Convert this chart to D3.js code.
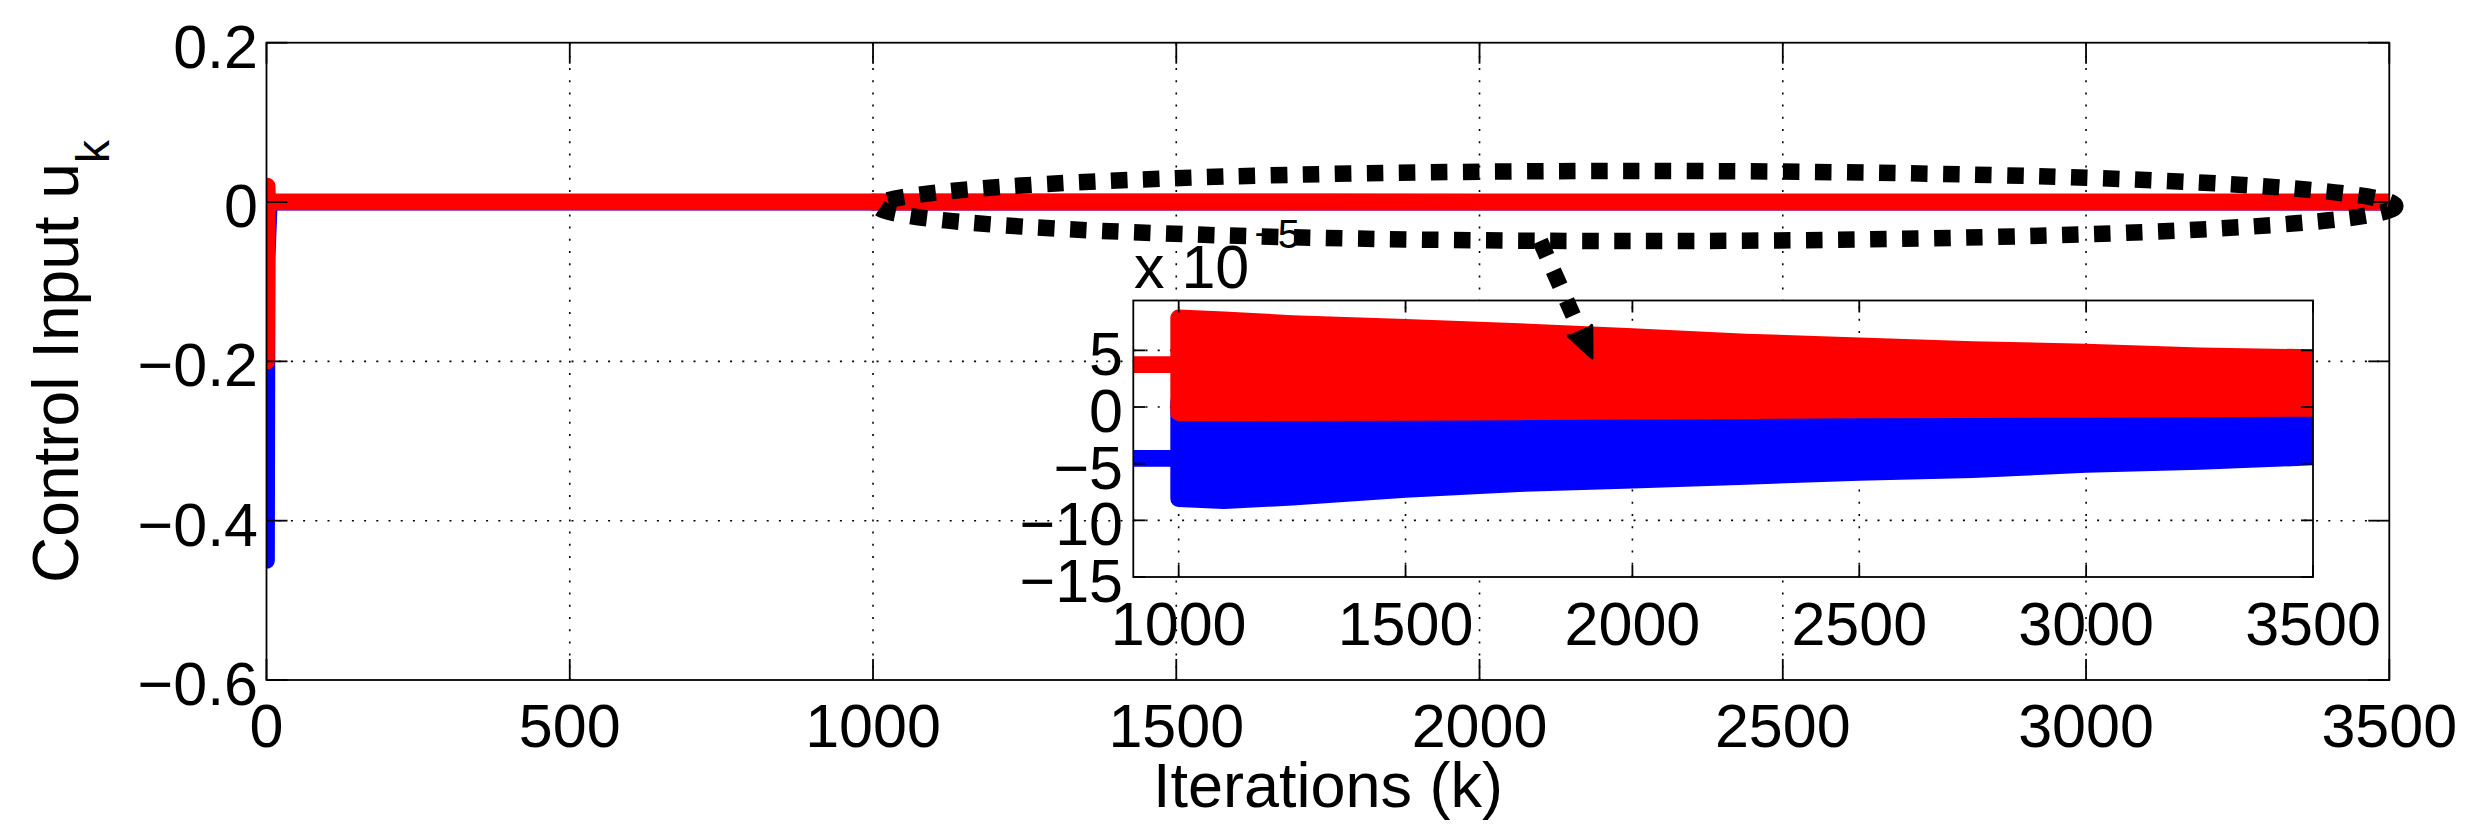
<!DOCTYPE html>
<html><head><meta charset="utf-8">
<script src="https://cdn.jsdelivr.net/npm/d3@7"></script>
<style>
body{margin:0;background:#fff}
svg{display:block}
text{font-family:"Liberation Sans",Arial,Helvetica,sans-serif;fill:#000}
</style>
</head><body>
<svg id="c" width="2470" height="834"></svg>
<script>
// ---------------- data ----------------
const mainXTicks = [0, 500, 1000, 1500, 2000, 2500, 3000, 3500];
const mainYTicks = [-0.6, -0.4, -0.2, 0, 0.2];
const insetXTicks = [1000, 1500, 2000, 2500, 3000, 3500];
const insetYTicks = [-15, -10, -5, 0, 5];           // in units of 1e-5

// transient + flat part of each control input
const redK  = [0, 1, 2, 1000];
const redU  = [-0.2, 0.02, 3.74e-5, 3.74e-5];
const blueK = [0, 1, 4, 5, 1000];
const blueU = [-0.45, -0.07, -0.013, -4.53e-5, -4.53e-5];

// oscillation envelope after k = 1000 (units of 1e-5)
const envK      = [1000, 1100, 1250, 1500, 1750, 2000, 2250, 2500, 2750, 3000, 3250, 3500];
const redUpper  = [7.86, 7.70, 7.37, 7.04, 6.65, 6.22, 5.73, 5.40, 5.07, 4.84, 4.51, 4.36];
const redLower  = [-0.50, -0.52, -0.50, -0.48, -0.42, -0.36, -0.31, -0.26, -0.23, -0.20, -0.16, -0.12];
const blueUpper = [0.45, 0.42, 0.40, 0.36, 0.32, 0.28, 0.25, 0.22, 0.20, 0.18, 0.15, 0.12];
const blueLower = [-8.09, -8.26, -7.96, -7.26, -6.76, -6.46, -6.12, -5.76, -5.53, -5.06, -4.80, -4.41];

const RED = "#ff0000", BLUE = "#0000ff";
const LW = 16.7;

// ---------------- setup ----------------
const svg = d3.select("#c");
const fmtMain = v => (v < 0 ? "\u2212" : "") + Math.abs(v).toString();
const defs = svg.append("defs");

const mx = d3.scaleLinear().domain([0, 3500]).range([266.5, 2389.3]);
const my = d3.scaleLinear().domain([-0.6, 0.2]).range([680, 42.7]);
const ix = d3.scaleLinear().domain([900, 3500]).range([1133.3, 2313]);
const iy = d3.scaleLinear().domain([-15e-5, 9.4e-5]).range([577, 300.5]);
const iys = d3.scaleLinear().domain([-15, 9.4]).range([577, 300.5]);   // same axis, in units of 1e-5

function clip(id, x, y) {
  const [x0, x1] = x.range(); const [y0, y1] = y.range();
  defs.append("clipPath").attr("id", id).append("rect")
    .attr("x", x0).attr("y", y1).attr("width", x1 - x0).attr("height", y0 - y1);
}
clip("cm", mx, my); clip("ci", ix, iy);

function grid(g, x, y, xt, yt) {
  const [x0, x1] = x.range(); const [y0, y1] = y.range();
  const st = s => s.attr("stroke", "#000").attr("stroke-width", 1.6).attr("stroke-dasharray", "2 10.2").attr("fill", "none");
  xt.filter(v => x(v) > x0 + 1 && x(v) < x1 - 1).forEach(v => {
    st(g.append("line").attr("x1", x(v)).attr("x2", x(v)).attr("y1", y0).attr("y2", y1));
  });
  yt.filter(v => y(v) < y0 - 1 && y(v) > y1 + 1).forEach(v => {
    st(g.append("line").attr("x1", x0).attr("x2", x1).attr("y1", y(v)).attr("y2", y(v)));
  });
}

function box(g, x, y, xt, yt, tl) {
  const [x0, x1] = x.range(); const [y0, y1] = y.range();
  const ln = (a, b, c, d) => g.append("line").attr("x1", a).attr("y1", b).attr("x2", c).attr("y2", d)
    .attr("stroke", "#000").attr("stroke-width", 1.8);
  xt.forEach(v => { ln(x(v), y0, x(v), y0 - tl); ln(x(v), y1, x(v), y1 + tl); });
  yt.forEach(v => { ln(x0, y(v), x0 + tl, y(v)); ln(x1, y(v), x1 - tl, y(v)); });
  g.append("rect").attr("x", x0).attr("y", y1).attr("width", x1 - x0).attr("height", y0 - y1)
    .attr("fill", "none").attr("stroke", "#000").attr("stroke-width", 1.8);
}

function series(g, x, y) {
  const line = d3.line().x(d => x(d[0])).y(d => y(d[1]));
  const area = d3.area().x(d => x(d[0])).y0(d => y(d[1])).y1(d => y(d[2]));
  const draw = (K, U, up, lo, col) => {
    g.append("path").attr("d", line(K.map((k, i) => [k, U[i]])))
      .attr("fill", "none").attr("stroke", col).attr("stroke-width", LW)
      .attr("stroke-linejoin", "round").attr("stroke-linecap", "round");
    g.append("path").attr("d", area(envK.map((k, i) => [k, lo[i] * 1e-5, up[i] * 1e-5])))
      .attr("fill", col).attr("stroke", col).attr("stroke-width", LW)
      .attr("stroke-linejoin", "round");
  };
  draw(blueK, blueU, blueUpper, blueLower, BLUE);
  draw(redK, redU, redUpper, redLower, RED);
}

// ---------------- main axes ----------------
const gm = svg.append("g");
grid(gm, mx, my, mainXTicks, mainYTicks);
series(gm.append("g").attr("clip-path", "url(#cm)"), mx, my);
box(gm, mx, my, mainXTicks, mainYTicks, 21);

gm.selectAll(".mxt").data(mainXTicks).enter().append("text")
  .attr("x", d => mx(d)).attr("y", 747).attr("text-anchor", "middle")
  .attr("font-size", 61).text(d => d);
gm.selectAll(".myt").data(mainYTicks).enter().append("text")
  .attr("x", 258).attr("y", d => my(d) + 25).attr("text-anchor", "end")
  .attr("font-size", 61).text(d => fmtMain(Math.round(d * 10) / 10));

svg.append("text").attr("x", 1328).attr("y", 807).attr("text-anchor", "middle")
  .attr("font-size", 63).text("Iterations (k)");
const yl = svg.append("text").attr("transform", "translate(78,361.5) rotate(-90)")
  .attr("text-anchor", "middle").attr("font-size", 64);
yl.append("tspan").text("Control Input u");
yl.append("tspan").attr("dy", 31).attr("font-size", 46).text("k");

// ---------------- inset axes ----------------
const gi = svg.append("g");
{
  const [x0, x1] = ix.range(); const [y0, y1] = iy.range();
  gi.append("rect").attr("x", x0).attr("y", y1).attr("width", x1 - x0).attr("height", y0 - y1).attr("fill", "#fff");
}
grid(gi, ix, iys, insetXTicks, insetYTicks);
series(gi.append("g").attr("clip-path", "url(#ci)"), ix, iy);
box(gi, ix, iys, insetXTicks, insetYTicks, 12);

gi.selectAll(".ixt").data(insetXTicks).enter().append("text")
  .attr("x", d => ix(d)).attr("y", 645).attr("text-anchor", "middle")
  .attr("font-size", 61).text(d => d);
gi.selectAll(".iyt").data(insetYTicks).enter().append("text")
  .attr("x", 1123).attr("y", d => iys(d) + 25).attr("text-anchor", "end")
  .attr("font-size", 61).text(d => fmtMain(d));
const ex = gi.append("text").attr("x", 1134).attr("y", 288).attr("font-size", 61);
ex.append("tspan").text("x 10");
ex.append("tspan").attr("dx", 5).attr("dy", -40).attr("font-size", 40).text("\u22125");

// ---------------- annotations ----------------
const ann = svg.append("g");
const ecx = mx(2259), ecy = my(-0.005);
const erx = mx(2259 + 1251) - mx(2259), ery = my(-0.005 - 0.044) - my(-0.005);
ann.append("ellipse").attr("cx", ecx).attr("cy", ecy).attr("rx", erx).attr("ry", ery)
  .attr("fill", "none").attr("stroke", "#000").attr("stroke-width", 16.5)
  .attr("stroke-dasharray", "16.5 15.5");

const ax0 = mx(2100), ay0 = my(-0.049);
const ax1 = ix(1911), ay1 = iy(4.33e-5);
const dx = ax1 - ax0, dy = ay1 - ay0, L = Math.hypot(dx, dy);
const ux = dx / L, uy = dy / L, px = -uy, py = ux;
const hb = 30;
ann.append("line").attr("x1", ax0).attr("y1", ay0)
  .attr("x2", ax1 - ux * (hb - 4)).attr("y2", ay1 - uy * (hb - 4))
  .attr("stroke", "#000").attr("stroke-width", 16).attr("stroke-dasharray", "16.5 16");
ann.append("path").attr("d", d3.line()([
  [ax1, ay1],
  [ax1 - ux * hb + px * 13, ay1 - uy * hb + py * 13],
  [ax1 - ux * (hb - 6), ay1 - uy * (hb - 6)],
  [ax1 - ux * hb - px * 13, ay1 - uy * hb - py * 13]
]) + "Z").attr("fill", "#000").attr("stroke", "#000").attr("stroke-width", 3).attr("stroke-linejoin", "round");
</script>
</body></html>
